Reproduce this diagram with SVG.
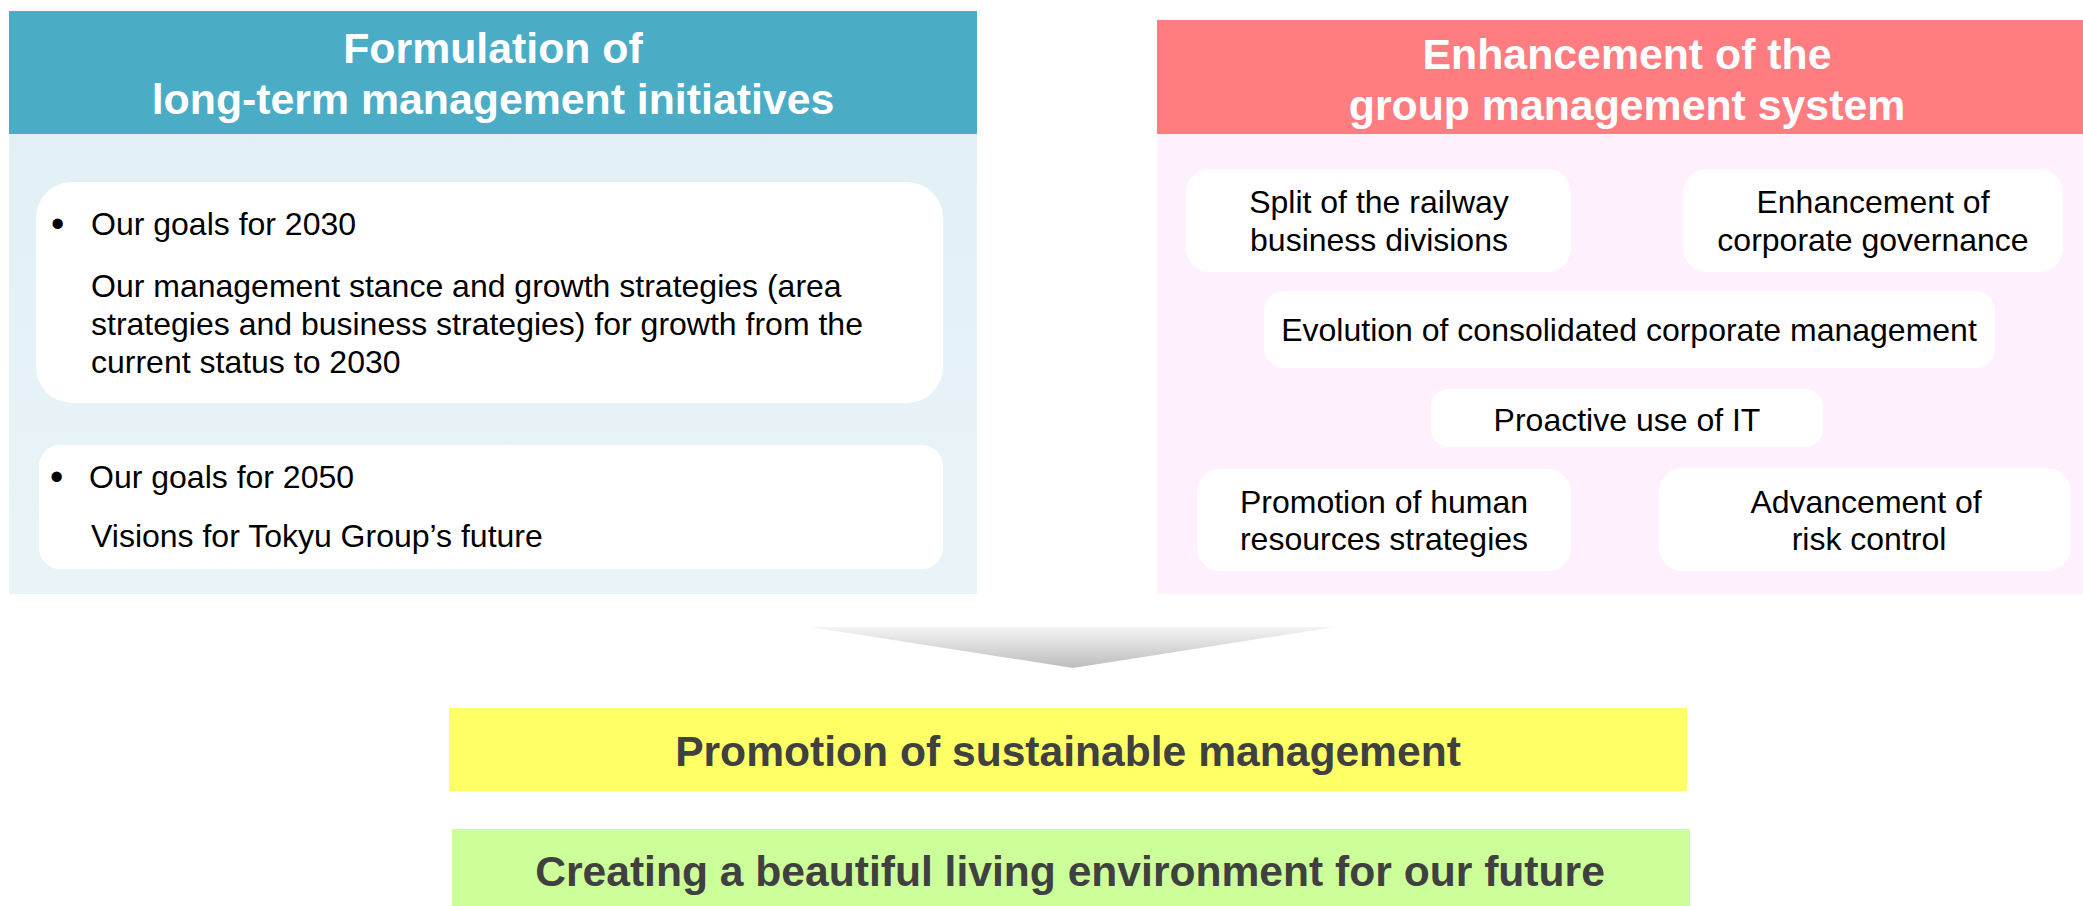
<svg xmlns="http://www.w3.org/2000/svg" width="2083" height="906" viewBox="0 0 2083 906">
<defs>
<linearGradient id="gBlue" x1="0" y1="0" x2="0" y2="1"><stop offset="0" stop-color="#E2F0F6"/><stop offset="1" stop-color="#E9F4F8"/></linearGradient>
<linearGradient id="gArrow" x1="0" y1="0" x2="0" y2="1"><stop offset="0" stop-color="#F4F4F4"/><stop offset="1" stop-color="#BDBDBD"/></linearGradient>
<style>
.hdr{font-family:"Liberation Sans",Arial,sans-serif;font-weight:bold;font-size:42.8px;fill:#FFFFFF;text-anchor:middle}
.body{font-family:"Liberation Sans",Arial,sans-serif;font-size:32px;fill:#000000}
.bul{font-family:"Liberation Sans",Arial,sans-serif;font-size:38px;fill:#000000}
.mid{text-anchor:middle}
.box{fill:#FFFFFF}
.big{font-family:"Liberation Sans",Arial,sans-serif;font-weight:bold;font-size:42.6px;fill:#404040;text-anchor:middle}
</style>
</defs>
<rect width="2083" height="906" fill="#FFFFFF"/>

<g id="left-panel">
<rect x="9" y="134" width="968" height="460" fill="url(#gBlue)"/>
<rect x="9" y="11" width="968" height="123" fill="#4BACC6"/>
<text class="hdr" x="493" y="63">Formulation of</text>
<text class="hdr" x="493" y="114">long-term management initiatives</text>
</g>

<g id="goals-2030">
<rect class="box" x="36" y="182" width="907" height="221" rx="36"/>
<text class="bul" x="51" y="237">•</text>
<text class="body" x="91" y="235">Our goals for 2030</text>
<text class="body" x="91" y="297">Our management stance and growth strategies (area</text>
<text class="body" x="91" y="335">strategies and business strategies) for growth from the</text>
<text class="body" x="91" y="373">current status to 2030</text>
</g>

<g id="goals-2050">
<rect class="box" x="39" y="445" width="904" height="124" rx="21"/>
<text class="bul" x="50" y="490">•</text>
<text class="body" x="89" y="488">Our goals for 2050</text>
<text class="body" x="91" y="547">Visions for Tokyu Group’s future</text>
</g>

<g id="right-panel">
<rect x="1157" y="134" width="926" height="460" fill="#FFF0FD"/>
<rect x="1157" y="20" width="926" height="114" fill="#FF7C80"/>
<text class="hdr" x="1627" y="69">Enhancement of the</text>
<text class="hdr" x="1627" y="120">group management system</text>
</g>

<g id="split-railway">
<rect class="box" x="1186" y="169" width="385" height="103" rx="24"/>
<text class="body mid" x="1379" y="213">Split of the railway</text>
<text class="body mid" x="1379" y="251">business divisions</text>
</g>

<g id="corporate-governance">
<rect class="box" x="1683" y="169" width="380" height="103" rx="24"/>
<text class="body mid" x="1873" y="213">Enhancement of</text>
<text class="body mid" x="1873" y="251">corporate governance</text>
</g>

<g id="consolidated-management">
<rect class="box" x="1264" y="291" width="731" height="77" rx="20"/>
<text class="body mid" x="1629" y="341">Evolution of consolidated corporate management</text>
</g>

<g id="proactive-it">
<rect class="box" x="1431" y="389" width="392" height="58" rx="18"/>
<text class="body mid" x="1627" y="431">Proactive use of IT</text>
</g>

<g id="human-resources">
<rect class="box" x="1197" y="469" width="374" height="102" rx="24"/>
<text class="body mid" x="1384" y="513">Promotion of human</text>
<text class="body mid" x="1384" y="550">resources strategies</text>
</g>

<g id="risk-control">
<rect class="box" x="1659" y="468" width="412" height="103" rx="24"/>
<text class="body mid" x="1866" y="513">Advancement of</text>
<text class="body mid" x="1869" y="550">risk control</text>
</g>

<g id="connectors">
<polygon points="810,627 1335,627 1073,668" fill="url(#gArrow)"/>
</g>

<g id="sustainable-management">
<rect x="449" y="708" width="1238" height="83" fill="#FFFF66"/>
<text class="big" x="1068" y="766">Promotion of sustainable management</text>
</g>

<g id="beautiful-environment">
<rect x="452" y="829" width="1238" height="77" fill="#CCFF99"/>
<text class="big" x="1070" y="886">Creating a beautiful living environment for our future</text>
</g>
</svg>
